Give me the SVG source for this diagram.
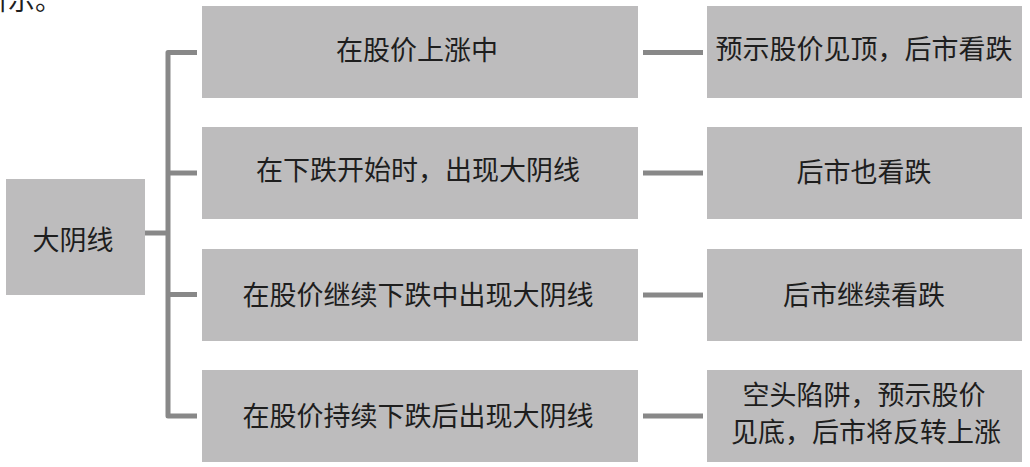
<svg xmlns="http://www.w3.org/2000/svg" width="1030" height="467" viewBox="0 0 1030 467">
<style>
.box{fill:#bdbcbd;}
.t{font-family:"Noto Sans CJK SC","Noto Sans CJK TC",sans-serif;font-size:27px;fill:#1e1e1e;text-anchor:middle;}
.c{stroke:#888888;stroke-width:5;fill:none;stroke-linejoin:round;}
</style>
<rect width="1030" height="467" fill="#ffffff"/>
<text class="t" x="-19" y="10" style="text-anchor:start">所示。</text>
<g id="connectors">
<path class="c" d="M145 233 H168"/>
<path class="c" d="M197 52.5 H168 V416 H197"/>
<path class="c" d="M168 173 H197"/>
<path class="c" d="M168 294.5 H197"/>
<path class="c" d="M643 52.5 H703"/>
<path class="c" d="M643 173 H703"/>
<path class="c" d="M643 295 H703"/>
<path class="c" d="M643 416 H703"/>
</g>
<g id="root">
<rect class="box" x="6" y="179" width="139" height="116"/>
<text class="t" x="73" y="250">大阴线</text>
</g>
<g id="m1">
<rect class="box" x="202" y="6" width="436" height="92"/>
<text class="t" x="417" y="60">在股价上涨中</text>
</g>
<g id="m2">
<rect class="box" x="202" y="127" width="436" height="92"/>
<text class="t" x="418" y="180">在下跌开始时，出现大阴线</text>
</g>
<g id="m3">
<rect class="box" x="202" y="249" width="436" height="92"/>
<text class="t" x="418" y="305">在股价继续下跌中出现大阴线</text>
</g>
<g id="m4">
<rect class="box" x="202" y="370" width="436" height="92"/>
<text class="t" x="418" y="426">在股价持续下跌后出现大阴线</text>
</g>
<g id="r1">
<rect class="box" x="707" y="6" width="315" height="92"/>
<text class="t" x="864" y="59">预示股价见顶，后市看跌</text>
</g>
<g id="r2">
<rect class="box" x="707" y="127" width="315" height="92"/>
<text class="t" x="864" y="182">后市也看跌</text>
</g>
<g id="r3">
<rect class="box" x="707" y="249" width="315" height="92"/>
<text class="t" x="864" y="305">后市继续看跌</text>
</g>
<g id="r4">
<rect class="box" x="707" y="370" width="315" height="92"/>
<text class="t" x="864" y="405">空头陷阱，预示股价</text>
<text class="t" x="866" y="442">见底，后市将反转上涨</text>
</g>
</svg>
